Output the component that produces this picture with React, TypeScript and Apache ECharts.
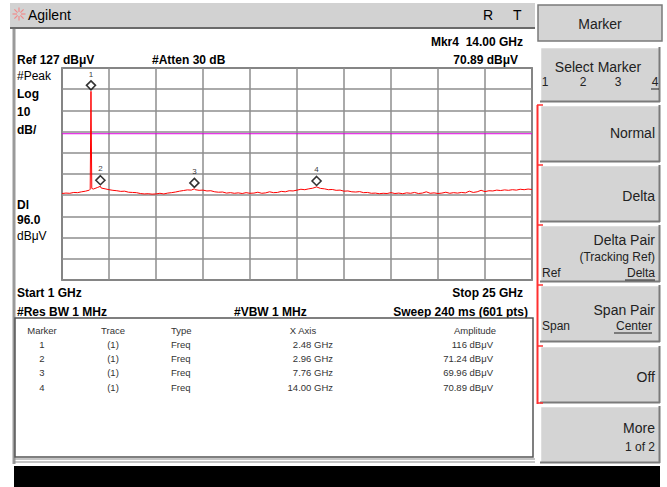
import React, { useEffect, useRef } from "react";
import * as echarts from "echarts";

// ---- Data ----
const traceFreqGHz = [
  1.0, 1.2, 1.4, 1.6, 1.8, 2.0, 2.2, 2.4, 2.44, 2.48, 2.52, 2.6, 2.8, 2.96, 3.0, 3.2, 3.4, 3.6, 3.8, 4.0,
  4.2, 4.4, 4.6, 4.8, 5.0, 5.2, 5.4, 5.6, 5.8, 6.0, 6.2, 6.4, 6.6, 6.8, 7.0, 7.2, 7.4, 7.6, 7.76, 7.8,
  8.0, 8.2, 8.4, 8.6, 8.8, 9.0, 9.2, 9.4, 9.6, 9.8, 10.0, 10.2, 10.4, 10.6, 10.8, 11.0, 11.2, 11.4, 11.6, 11.8,
  12.0, 12.2, 12.4, 12.6, 12.8, 13.0, 13.2, 13.4, 13.6, 13.8, 14.0, 14.2, 14.4, 14.6, 14.8, 15.0, 15.2, 15.4, 15.6, 15.8,
  16.0, 16.2, 16.4, 16.6, 16.8, 17.0, 17.2, 17.4, 17.6, 17.8, 18.0, 18.2, 18.4, 18.6, 18.8, 19.0, 19.2, 19.4, 19.6, 19.8,
  20.0, 20.2, 20.4, 20.6, 20.8, 21.0, 21.2, 21.4, 21.6, 21.8, 22.0, 22.2, 22.4, 22.6, 22.8, 23.0, 23.2, 23.4, 23.6, 23.8,
  24.0, 24.2, 24.4, 24.6, 24.8, 25.0,
];
const traceAmpDbuV = [
  67.8, 68.0, 67.9, 68.3, 68.2, 68.6, 68.9, 69.4, 69.8, 116.0, 70.2, 69.9, 70.6, 71.2, 70.4, 70.0, 69.6, 69.3, 69.1, 68.8,
  68.9, 68.4, 68.3, 68.2, 67.8, 67.6, 67.7, 67.5, 67.6, 67.9, 67.6, 68.0, 68.2, 68.5, 68.9, 69.2, 69.5, 69.4, 70.0, 69.6,
  69.3, 69.4, 69.0, 69.1, 68.6, 68.4, 68.5, 68.0, 68.2, 67.9, 68.1, 67.8, 68.2, 67.9, 68.0, 68.4, 67.9, 68.1, 68.6, 68.2,
  68.3, 68.8, 68.6, 69.1, 69.0, 69.4, 69.8, 69.6, 70.0, 70.3, 70.9, 70.2, 70.0, 69.6, 69.7, 69.3, 69.4, 68.9, 69.0, 68.6,
  68.5, 68.7, 68.2, 68.3, 67.9, 68.0, 67.7, 67.9, 67.8, 68.2, 67.8, 68.0, 67.7, 68.1, 67.9, 68.3, 67.8, 68.0, 68.6, 67.9,
  68.1, 67.8, 68.0, 68.4, 67.9, 68.2, 68.0, 68.3, 68.1, 68.9, 68.3, 68.6, 69.3, 68.7, 69.1, 69.0, 69.4, 69.2, 69.5, 69.3,
  69.6, 69.4, 69.8, 69.6, 69.9, 69.7,
];

const markerIds = ["1", "2", "3", "4"];
const markerTrace = ["(1)", "(1)", "(1)", "(1)"];
const markerType = ["Freq", "Freq", "Freq", "Freq"];
const markerFreqGHz = [2.48, 2.96, 7.76, 14.0];
const markerAmpDbuV = [116, 71.24, 69.96, 70.89];

const displayLineDbuV = 96.0;
const refLevel = 127;
const dbPerDiv = 10;
const startGHz = 1;
const stopGHz = 25;

const FONT = '"Liberation Sans", Arial, sans-serif';

function txt(x: number, y: number, text: string, opt: any = {}) {
  return {
    type: "text",
    x,
    y,
    silent: true,
    style: {
      text,
      fill: opt.fill || "#000",
      font: `${opt.weight || "normal"} ${opt.size || 12}px ${FONT}`,
      textAlign: opt.align || "left",
      textVerticalAlign: "middle",
    },
  };
}

function rect(x: number, y: number, w: number, h: number, fill: string, stroke?: string, lw = 1) {
  return {
    type: "rect",
    silent: true,
    shape: { x, y, width: w, height: h },
    style: { fill, stroke: stroke || null, lineWidth: lw },
  };
}

function line(x1: number, y1: number, x2: number, y2: number, stroke: string, lw = 1) {
  return {
    type: "line",
    silent: true,
    shape: { x1, y1, x2, y2 },
    style: { stroke, lineWidth: lw },
  };
}

function key(x: number, y: number, w: number, h: number) {
  return [
    rect(x, y, w, h, "#d4d4d4"),
    line(x, y + 0.5, x + w, y + 0.5, "#ffffff", 1.5),
    line(x + 0.5, y, x + 0.5, y + h, "#ffffff", 1.5),
    line(x, y + h - 0.5, x + w, y + h - 0.5, "#7a7a7a", 2),
    line(x + w - 0.5, y, x + w - 0.5, y + h, "#7a7a7a", 2),
  ];
}

function logo(cx: number, cy: number) {
  const out: any[] = [];
  for (let i = 0; i < 8; i++) {
    const a = (i * Math.PI) / 4;
    out.push(line(cx + Math.cos(a) * 2, cy + Math.sin(a) * 2, cx + Math.cos(a) * 6.5, cy + Math.sin(a) * 6.5, "#f08a8a", 1.2));
  }
  return out;
}

export default function App() {
  const ref = useRef<HTMLDivElement>(null);

  useEffect(() => {
    if (!ref.current) return;
    const chart = echarts.init(ref.current, null, { renderer: "svg" });

    const gridL = 62, gridT = 68, gridW = 470, gridH = 212;

    const graphics: any[] = [];
    // page chrome
    graphics.push(rect(10, 3, 525, 24, "#d2d2d2"));
    graphics.push(line(10, 28, 535, 28, "#6a6a6a", 2));
    graphics.push(...logo(19, 14));
    graphics.push(txt(28, 15, "Agilent", { size: 14 }));
    graphics.push(txt(483, 15, "R", { size: 14 }));
    graphics.push(txt(513, 15, "T", { size: 14 }));
    // left border
    graphics.push(line(14, 29, 14, 464, "#9a9a9a", 3));
    // header texts
    graphics.push(txt(523, 42, "Mkr4  14.00 GHz", { weight: "bold", align: "right" }));
    graphics.push(txt(518, 60, "70.89 dBμV", { weight: "bold", align: "right" }));
    graphics.push(txt(17, 60, "Ref 127 dBμV", { weight: "bold" }));
    graphics.push(txt(152, 60, "#Atten 30 dB", { weight: "bold" }));
    graphics.push(txt(17, 76, "#Peak", { size: 12 }));
    graphics.push(txt(17, 94, "Log", { weight: "bold" }));
    graphics.push(txt(17, 112, "10", { weight: "bold" }));
    graphics.push(txt(17, 130, "dB/", { weight: "bold" }));
    graphics.push(txt(17, 205, "Dl", { weight: "bold" }));
    graphics.push(txt(17, 220, "96.0", { weight: "bold" }));
    graphics.push(txt(17, 236, "dBμV", { size: 12 }));
    graphics.push(txt(17, 293, "Start 1 GHz", { weight: "bold" }));
    graphics.push(txt(523, 293, "Stop 25 GHz", { weight: "bold", align: "right" }));
    graphics.push(txt(17, 312, "#Res BW 1 MHz", { weight: "bold" }));
    graphics.push(txt(234, 312, "#VBW 1 MHz", { weight: "bold" }));
    graphics.push(txt(528, 312, "Sweep 240 ms (601 pts)", { weight: "bold", align: "right" }));

    // marker table
    graphics.push(rect(15, 318, 518, 139, "#ffffff", "#555555", 1.5));
    graphics.push(line(14, 459, 535, 459, "#8a8a8a", 1));
    graphics.push(line(14, 462, 535, 462, "#8a8a8a", 1));
    const tSize = 9.5;
    const tFill = "#333";
    graphics.push(txt(42, 330, "Marker", { size: tSize, fill: tFill, align: "center" }));
    graphics.push(txt(113, 330, "Trace", { size: tSize, fill: tFill, align: "center" }));
    graphics.push(txt(171, 330, "Type", { size: tSize, fill: tFill }));
    graphics.push(txt(303, 330, "X Axis", { size: tSize, fill: tFill, align: "center" }));
    graphics.push(txt(475, 330, "Amplitude", { size: tSize, fill: tFill, align: "center" }));
    const rowY = [344, 358, 372, 387];
    markerIds.forEach((id, i) => {
      const y = rowY[i];
      const amp = markerAmpDbuV[i];
      graphics.push(txt(42, y, id, { size: tSize, fill: tFill, align: "center" }));
      graphics.push(txt(113, y, markerTrace[i], { size: tSize, fill: tFill, align: "center" }));
      graphics.push(txt(171, y, markerType[i], { size: tSize, fill: tFill }));
      graphics.push(txt(333, y, markerFreqGHz[i].toFixed(2) + " GHz", { size: tSize, fill: tFill, align: "right" }));
      graphics.push(txt(493, y, (amp >= 100 ? amp.toFixed(0) : amp.toFixed(2)) + " dBμV", { size: tSize, fill: tFill, align: "right" }));
    });

    // bottom black bar
    graphics.push(rect(14, 466, 646, 21, "#000000"));

    // softkeys
    graphics.push(rect(538, 5, 124, 36, "#d4d4d4", "#7a7a7a", 1.5));
    graphics.push(txt(600, 24, "Marker", { size: 14, fill: "#222", align: "center" }));
    graphics.push(...key(540, 47, 120, 55));
    graphics.push(txt(598, 67, "Select Marker", { size: 14, fill: "#222", align: "center" }));
    graphics.push(txt(545, 82, "1", { size: 12, fill: "#222", align: "center" }));
    graphics.push(txt(583, 82, "2", { size: 12, fill: "#222", align: "center" }));
    graphics.push(txt(618, 82, "3", { size: 12, fill: "#222", align: "center" }));
    graphics.push(txt(655, 82, "4", { size: 12, fill: "#222", align: "center" }));
    graphics.push(line(651, 89, 659, 89, "#222", 1));

    const keyTops = [105, 165, 225, 285, 346, 406];
    keyTops.forEach((t) => graphics.push(...key(540, t, 120, 57)));
    graphics.push(txt(655, 133, "Normal", { size: 14, fill: "#222", align: "right" }));
    graphics.push(txt(655, 196, "Delta", { size: 14, fill: "#222", align: "right" }));
    graphics.push(txt(655, 240, "Delta Pair", { size: 14, fill: "#222", align: "right" }));
    graphics.push(txt(655, 257, "(Tracking Ref)", { size: 12, fill: "#222", align: "right" }));
    graphics.push(txt(542, 273, "Ref", { size: 12, fill: "#222" }));
    graphics.push(txt(655, 273, "Delta", { size: 12, fill: "#222", align: "right" }));
    graphics.push(line(625, 280, 655, 280, "#222", 1));
    graphics.push(txt(655, 310, "Span Pair", { size: 14, fill: "#222", align: "right" }));
    graphics.push(txt(542, 326, "Span", { size: 12, fill: "#222" }));
    graphics.push(txt(652, 326, "Center", { size: 12, fill: "#222", align: "right" }));
    graphics.push(line(614, 333, 652, 333, "#222", 1));
    graphics.push(txt(655, 377, "Off", { size: 14, fill: "#222", align: "right" }));
    graphics.push(txt(655, 428, "More", { size: 14, fill: "#222", align: "right" }));
    graphics.push(txt(655, 447, "1 of 2", { size: 12, fill: "#222", align: "right" }));
    // red bracket
    graphics.push(line(537.5, 105, 537.5, 404, "#ff3030", 2));
    [105, 165, 225, 285, 346, 403].forEach((y) => graphics.push(line(537, y, 543, y, "#ff3030", 1.5)));

    const option: any = {
      animation: false,
      backgroundColor: "#ffffff",
      grid: {
        left: gridL,
        top: gridT,
        width: gridW,
        height: gridH,
        show: true,
        borderColor: "#3c3c3c",
        borderWidth: 1.5,
        backgroundColor: "transparent",
      },
      xAxis: [
        { type: "value", min: startGHz, max: stopGHz, show: false },
        {
          type: "value",
          min: 0,
          max: stopGHz - startGHz,
          interval: (stopGHz - startGHz) / 10,
          position: "bottom",
          axisLine: { show: false },
          axisTick: { show: false },
          axisLabel: { show: false },
          splitLine: { show: true, lineStyle: { color: "#8e8e8e", width: 1.5 } },
        },
      ],
      yAxis: [
        { type: "value", min: refLevel - 10 * dbPerDiv, max: refLevel, show: false },
        {
          type: "value",
          min: 0,
          max: 10 * dbPerDiv,
          interval: dbPerDiv,
          position: "left",
          axisLine: { show: false },
          axisTick: { show: false },
          axisLabel: { show: false },
          splitLine: { show: true, lineStyle: { color: "#8e8e8e", width: 1.5 } },
        },
      ],
      series: [
        {
          type: "line",
          xAxisIndex: 1,
          yAxisIndex: 1,
          data: [[0, 0]],
          symbol: "none",
          lineStyle: { opacity: 0 },
          silent: true,
        },
        {
          type: "line",
          xAxisIndex: 0,
          yAxisIndex: 0,
          data: [[startGHz, displayLineDbuV], [stopGHz, displayLineDbuV]],
          symbol: "none",
          lineStyle: { color: "#e000e0", width: 1 },
          silent: true,
          z: 3,
        },
        {
          type: "line",
          xAxisIndex: 0,
          yAxisIndex: 0,
          data: traceFreqGHz.map((f, i) => [f, traceAmpDbuV[i]]),
          showSymbol: false,
          symbol: "none",
          lineStyle: { color: "#ff0000", width: 1 },
          z: 4,
        },
        {
          type: "scatter",
          xAxisIndex: 0,
          yAxisIndex: 0,
          data: markerFreqGHz.map((f, i) => ({ value: [f, markerAmpDbuV[i]], name: markerIds[i] })),
          symbol: "diamond",
          symbolSize: [9, 9],
          symbolOffset: [0, -6],
          itemStyle: { color: "#ffffff", borderColor: "#000000", borderWidth: 1.6 },
          label: {
            show: true,
            position: "top",
            distance: 2,
            formatter: (p: any) => p.name,
            fontSize: 8,
            fontFamily: FONT,
            color: "#000",
          },
          z: 5,
        },
      ],
      graphic: { elements: graphics },
    };

    chart.setOption(option);
    return () => chart.dispose();
  }, []);

  return (
    <div
      ref={ref}
      style={{ position: "absolute", left: 0, top: 0, width: 667, height: 487 }}
    />
  );
}
